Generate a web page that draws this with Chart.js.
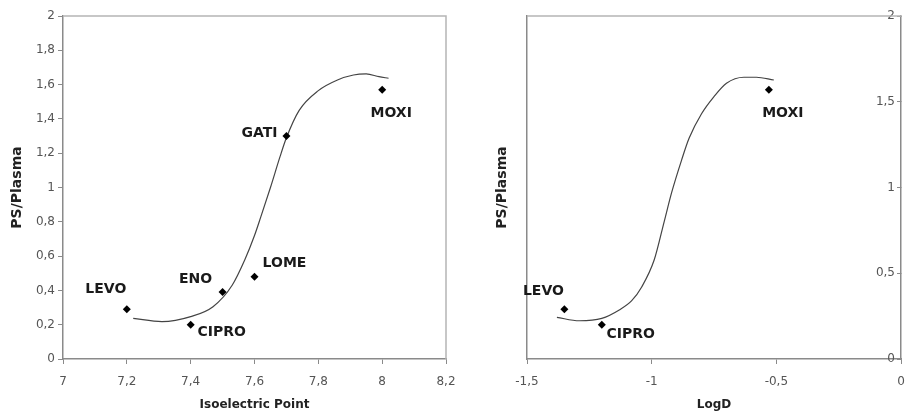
<!DOCTYPE html>
<html>
<head>
<meta charset="utf-8">
<script src="https://cdn.jsdelivr.net/npm/chart.js@4/dist/chart.umd.min.js"></script>
<style>
  html, body { margin: 0; padding: 0; background: #fff; }
  #wrap { position: relative; width: 905px; height: 416px; overflow: hidden; }
  .box { position: absolute; top: 0; height: 416px; }
  #left { left: 0; width: 460px; }
  #right { left: 460px; width: 445px; }
</style>
</head>
<body>
<div id="wrap">
  <div class="box" id="left"><canvas id="isoChart"></canvas></div>
  <div class="box" id="right"><canvas id="logdChart"></canvas></div>
</div>
<script>
// measured drugs, left panel
var isoNames = ['LEVO', 'CIPRO', 'ENO', 'LOME', 'GATI', 'MOXI'];
var isoPoint = [7.2, 7.4, 7.5, 7.6, 7.7, 8.0];
var isoRatio = [0.29, 0.2, 0.39, 0.48, 1.3, 1.57];
// fitted curve, left panel
var isoFitX = [7.22, 7.31, 7.4, 7.47, 7.53, 7.57, 7.6, 7.62, 7.65, 7.68, 7.7, 7.74, 7.8, 7.86, 7.91, 7.95, 7.99, 8.02];
var isoFitY = [0.237, 0.218, 0.247, 0.305, 0.43, 0.58, 0.72, 0.83, 1.0, 1.18, 1.29, 1.45, 1.565, 1.627, 1.656, 1.662, 1.646, 1.637];

// measured drugs, right panel
var logdNames = ['LEVO', 'CIPRO', 'MOXI'];
var logdValue = [-1.35, -1.2, -0.53];
var logdRatio = [0.29, 0.2, 1.57];
// fitted curve, right panel
var logdFitX = [-1.38, -1.29, -1.2, -1.13, -1.08, -1.04, -0.99, -0.95, -0.92, -0.88, -0.85, -0.8, -0.75, -0.7, -0.63, -0.58, -0.51];
var logdFitY = [0.243, 0.223, 0.237, 0.286, 0.34, 0.42, 0.577, 0.8, 0.97, 1.16, 1.287, 1.43, 1.53, 1.608, 1.643, 1.643, 1.627];

var isoTicks = [7, 7.2, 7.4, 7.6, 7.8, 8, 8.2];
var logdTicks = [-1.5, -1, -0.5, 0];
var ratioTicks = [0, 0.2, 0.4, 0.6, 0.8, 1, 1.2, 1.4, 1.6, 1.8, 2];
var ratioTicksRight = [0, 0.5, 1, 1.5, 2];

function pairs(xs, ys) {
  var out = [];
  for (var i = 0; i < xs.length; i++) out.push({x: xs[i], y: ys[i]});
  return out;
}
function comma(v) {
  return String(Math.round(v * 10) / 10).replace('.', ',');
}
function fixedTicks(list) {
  return function(s) { s.ticks = list.map(function(v) { return {value: v}; }); };
}

var FONT = 'DejaVu Sans, Verdana, sans-serif';
var AXIS = '#8a8a8a';

// where each name sits relative to its marker
var offsetsIso = {LEVO: [-21, -20], CIPRO: [31, 8], ENO: [-27, -13], LOME: [30, -13], GATI: [-27, -3], MOXI: [9, 24]};
var offsetsLogd = {LEVO: [-21, -18], CIPRO: [29, 10], MOXI: [14, 24]};

var nameLabels = {
  id: 'nameLabels',
  afterDatasetsDraw: function(chart, args, opts) {
    var ctx = chart.ctx;
    var meta = chart.getDatasetMeta(0);
    ctx.save();
    ctx.font = 'bold 14px ' + FONT;
    ctx.fillStyle = '#1a1a1a';
    ctx.textAlign = 'center';
    ctx.textBaseline = 'middle';
    opts.names.forEach(function(n, i) {
      var el = meta.data[i];
      var off = opts.offsets[n] || [0, 0];
      ctx.fillText(n, el.x + off[0], el.y + off[1]);
    });
    ctx.restore();
  }
};

var frame = {
  id: 'frame',
  beforeDatasetsDraw: function(chart, args, opts) {
    var a = chart.chartArea, ctx = chart.ctx;
    ctx.save();
    ctx.strokeStyle = '#b5b5b5';
    ctx.lineWidth = 1.5;
    ctx.beginPath();
    ctx.moveTo(a.left, a.top);
    ctx.lineTo(a.right, a.top);
    if (opts.right) ctx.lineTo(a.right, a.bottom);
    ctx.stroke();
    ctx.restore();
  }
};

function xAxis(min, max, title, ticksAt) {
  return {
    type: 'linear', position: 'bottom', min: min, max: max,
    afterBuildTicks: fixedTicks(ticksAt),
    afterFit: function(s) { s.height = 57; s.paddingLeft = 0; s.paddingRight = 0; },
    grid: { drawOnChartArea: false, tickLength: 5, color: AXIS, lineWidth: 1 },
    border: { color: AXIS, width: 1.5 },
    ticks: { color: '#555', padding: 11, font: { family: FONT, size: 12 }, maxRotation: 0, callback: function(v) { return comma(v); } },
    title: { display: true, text: title, color: '#222', font: { family: FONT, size: 12, weight: 'bold' }, padding: { top: 0, bottom: 4 } }
  };
}

var base = {
  animation: false,
  responsive: true,
  maintainAspectRatio: false,
  plugins: { legend: { display: false }, tooltip: { enabled: false } }
};

new Chart(document.getElementById('isoChart'), {
  type: 'scatter',
  data: {
    datasets: [
      { data: pairs(isoPoint, isoRatio), pointStyle: 'rectRot', pointRadius: 4, backgroundColor: '#000', borderColor: '#000', borderWidth: 0 },
      { data: pairs(isoFitX, isoFitY), showLine: true, pointRadius: 0, borderColor: '#444', borderWidth: 1.2, cubicInterpolationMode: 'monotone' }
    ]
  },
  options: Object.assign({}, base, {
    layout: { padding: { top: 16, right: 14, bottom: 0, left: 0 } },
    plugins: Object.assign({}, base.plugins, {
      nameLabels: { names: isoNames, offsets: offsetsIso },
      frame: { right: true }
    }),
    scales: {
      x: xAxis(7, 8.2, 'Isoelectric Point', isoTicks),
      y: {
        type: 'linear', position: 'left', min: 0, max: 2,
        afterBuildTicks: fixedTicks(ratioTicks),
        afterFit: function(s) { s.width = 63; },
        grid: { drawOnChartArea: false, tickLength: 5, color: AXIS },
        border: { color: AXIS, width: 1.5 },
        ticks: { color: '#555', padding: 3, font: { family: FONT, size: 12 }, callback: function(v) { return comma(v); } },
        title: { display: true, text: 'PS/Plasma', color: '#222', font: { family: FONT, size: 14, weight: 'bold' }, padding: { top: 9, bottom: 0 } }
      }
    }
  }),
  plugins: [nameLabels, frame]
});

new Chart(document.getElementById('logdChart'), {
  type: 'scatter',
  data: {
    datasets: [
      { data: pairs(logdValue, logdRatio), pointStyle: 'rectRot', pointRadius: 4, backgroundColor: '#000', borderColor: '#000', borderWidth: 0 },
      { data: pairs(logdFitX, logdFitY), showLine: true, pointRadius: 0, borderColor: '#444', borderWidth: 1.2, cubicInterpolationMode: 'monotone' }
    ]
  },
  options: Object.assign({}, base, {
    layout: { padding: { top: 16, right: 0, bottom: 0, left: 0 } },
    plugins: Object.assign({}, base.plugins, {
      nameLabels: { names: logdNames, offsets: offsetsLogd },
      frame: { right: false }
    }),
    scales: {
      x: xAxis(-1.5, 0, 'LogD', logdTicks),
      y: {
        type: 'linear', position: 'left', min: 0, max: 2,
        afterFit: function(s) { s.width = 67; },
        grid: { display: false },
        border: { color: AXIS, width: 1.5 },
        ticks: { display: false },
        title: { display: true, text: 'PS/Plasma', color: '#222', font: { family: FONT, size: 14, weight: 'bold' }, padding: { top: 34, bottom: 0 } }
      },
      y2: {
        type: 'linear', position: 'right', min: 0, max: 2,
        afterBuildTicks: fixedTicks(ratioTicksRight),
        afterFit: function(s) { s.width = 3; s.paddingTop = 0; s.paddingBottom = 0; },
        grid: { drawOnChartArea: false, tickLength: -4, color: AXIS },
        border: { color: AXIS, width: 1.5 },
        ticks: { mirror: true, color: '#555', padding: -6, font: { family: FONT, size: 12 }, callback: function(v) { return comma(v); } }
      }
    }
  }),
  plugins: [nameLabels, frame]
});
</script>
</body>
</html>
